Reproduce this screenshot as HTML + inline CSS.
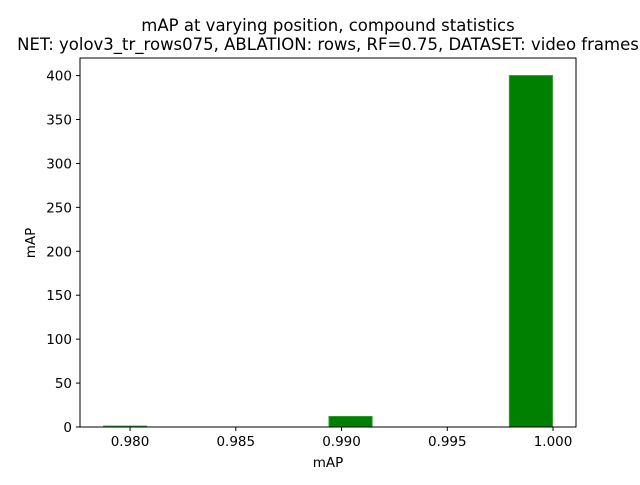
<!DOCTYPE html>
<html><head><meta charset="utf-8"><style>
body{margin:0;background:#fff}
svg{font-family:"DejaVu Sans","Liberation Sans",sans-serif}
</style></head><body>
<svg id="chart" width="640" height="480">
<rect width="640" height="480" fill="#fff"/>
<text x="328" y="31" font-size="16.5" text-anchor="middle">mAP at varying position, compound statistics</text>
<text x="328" y="50" font-size="16.5" text-anchor="middle">NET: yolov3_tr_rows075, ABLATION: rows, RF=0.75, DATASET: video frames</text>
<g id="bars"></g>
<rect x="80" y="58" width="496" height="369" fill="none" stroke="#000" stroke-width="1"/>
<g id="xt"></g><g id="yt"></g>
<text x="328" y="467" font-size="13.5" text-anchor="middle">mAP</text>
<text x="35" y="243" font-size="13.5" text-anchor="middle" transform="rotate(-90 35 243)">mAP</text>
</svg>
<script>
const binStart = 0.97870;
const binWidth = 0.002132;
const counts = [1, 0, 0, 0, 0, 12, 0, 0, 0, 400];
const xTicks = [0.980, 0.985, 0.990, 0.995, 1.000];
const xTickLabels = ["0.980", "0.985", "0.990", "0.995", "1.000"];
const yTicks = [0, 50, 100, 150, 200, 250, 300, 350, 400];
const NS = "http://www.w3.org/2000/svg";
const x0 = binStart - 0.05 * binWidth * counts.length;
const x1 = binStart + 1.05 * binWidth * counts.length;
const X = v => 80 + (v - x0) / (x1 - x0) * 496;
const ymax = Math.max(...counts) * 1.05;
const Y = v => 427 - v / ymax * 369;
function mk(tag, attrs, parent) {
  const e = document.createElementNS(NS, tag);
  for (const k in attrs) e.setAttribute(k, attrs[k]);
  parent.appendChild(e);
  return e;
}
const bars = document.getElementById('bars');
counts.forEach((c, i) => {
  if (c <= 0) return;
  const l = X(binStart + i * binWidth), r = X(binStart + (i + 1) * binWidth);
  const b = mk('rect', {x: l + 1, y: Y(c), width: r - l - 2, height: Y(0) - Y(c), fill: '#008000', stroke: '#2e9a2e', 'stroke-width': 1}, bars);
  
  
});
const xt = document.getElementById('xt');
xTicks.forEach((t, i) => {
  const x = X(t);
  const l = mk('line', {x1: x, x2: x, y1: 427, y2: 431, stroke: '#000'}, xt);
  
  
  const tx = mk('text', {x: x, y: 446, 'font-size': 13.5, 'text-anchor': 'middle'}, xt);
  tx.textContent = xTickLabels[i];
  
  
});
const yt = document.getElementById('yt');
yTicks.forEach(t => {
  const y = Y(t);
  const l = mk('line', {x1: 76, x2: 80, y1: y, y2: y, stroke: '#000'}, yt);
  
  
  const tx = mk('text', {x: 72, y: y + 5, 'font-size': 13.5, 'text-anchor': 'end'}, yt);
  tx.textContent = t;
  
  
});
</script>
</body></html>
